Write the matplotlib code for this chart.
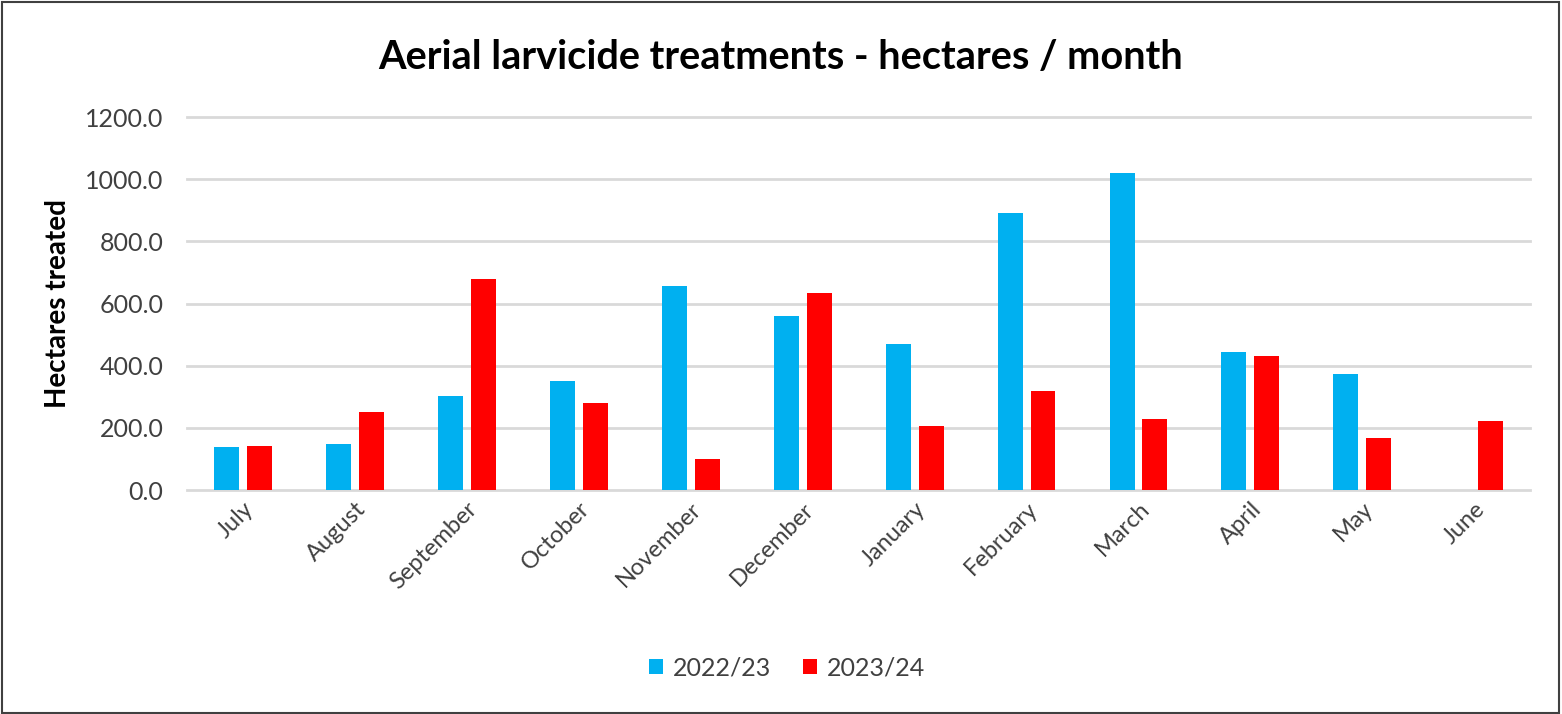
import numpy as np
import matplotlib.pyplot as plt
import matplotlib.patches as mpatches

months = ["July", "August", "September", "October", "November", "December",
          "January", "February", "March", "April", "May", "June"]
season_2022 = [138, 148, 303, 352, 655, 561, 469, 892, 1020, 445, 372, 0]
season_2023 = [143, 250, 678, 279, 99, 635, 207, 318, 227, 430, 167, 221]
series_labels = ["2022/23", "2023/24"]
yticks = [0, 200, 400, 600, 800, 1000, 1200]

blue = "#00B0F0"
red = "#FF0000"

plt.rcParams['font.family'] = ['Lato', 'DejaVu Sans']

fig = plt.figure(figsize=(15.62, 7.14), dpi=100)
ax = fig.add_axes([0.1197, 0.3137, 0.86, 0.5224])

x = np.arange(len(months))
w = 0.223
off = 0.147
ax.bar(x - off, season_2022, w, color=blue, label=series_labels[0], zorder=3)
ax.bar(x + off, season_2023, w, color=red, label=series_labels[1], zorder=3)

ax.set_xlim(-0.5, len(months) - 0.5)
ax.set_ylim(0, 1200)
ax.set_yticks(yticks)
ax.set_yticklabels(["%.1f" % v for v in yticks], fontsize=18, color="#404040")
ax.yaxis.grid(True, color="#d9d9d9", linewidth=2)
for line in ax.get_ygridlines():
    line.set_clip_on(False)
ax.set_axisbelow(True)
for s in ax.spines.values():
    s.set_visible(False)
ax.tick_params(axis='y', length=0, pad=17)
ax.tick_params(axis='x', length=0, pad=6)
ax.set_xticks(x)
ax.set_xticklabels(months, rotation=45, ha='right', rotation_mode='anchor',
                   fontsize=17, color="#404040")

ax.set_ylabel("Hectares treated", fontsize=20, fontweight='bold', labelpad=10)
fig.text(0.5, 0.92, "Aerial larvicide treatments - hectares / month",
         ha='center', va='center', fontsize=28.6, fontweight='bold')

leg = fig.legend(loc='center', bbox_to_anchor=(0.504, 0.064), ncol=2, frameon=False,
                 fontsize=18, handlelength=0.55, handleheight=0.55,
                 handletextpad=0.4, columnspacing=1.3)
for t in leg.get_texts():
    t.set_color("#404040")

border = mpatches.Rectangle((0.001, 0.002), 0.997, 0.995, transform=fig.transFigure,
                            fill=False, edgecolor="#404040", linewidth=1.5)
fig.patches.append(border)

fig.savefig("out.png", dpi=100)
